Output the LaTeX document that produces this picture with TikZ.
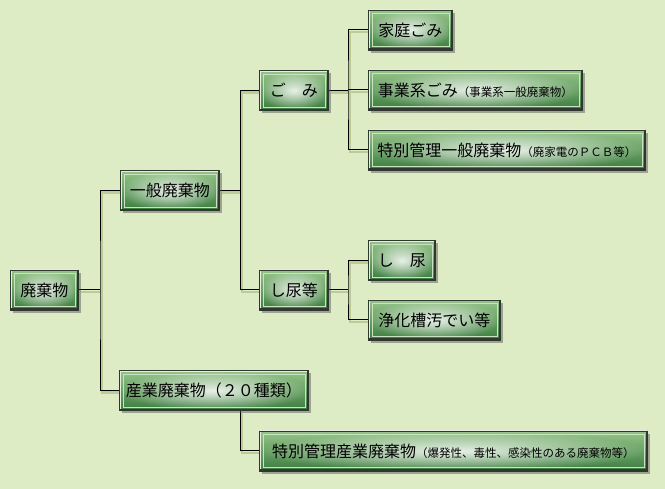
\documentclass[tikz,border=0pt]{standalone}
\usepackage{fontspec}
\setmainfont{Noto Sans CJK JP}
\usetikzlibrary{positioning,calc,shadows,fadings,backgrounds}
\definecolor{bgreen}{RGB}{222,236,197}
\definecolor{boxtop}{RGB}{150,196,138}
\definecolor{boxbottom}{RGB}{58,124,62}
\definecolor{edgelight}{RGB}{232,236,226}
\definecolor{edgedark}{RGB}{48,54,48}
\definecolor{innerline}{RGB}{200,228,190}
\definecolor{lineshadow}{RGB}{188,204,152}

\tikzfading[name=glowfade,inner color=transparent!0,outer color=transparent!100]
\newcommand{\subnote}[1]{{\fontsize{11.5}{13}\selectfont #1}}

\tikzset{
  wbox/.style={draw=edgedark,line width=0.6pt,top color=boxtop,bottom color=boxbottom,
    minimum height=40pt,inner sep=0pt,anchor=west,font=\fontsize{16}{18}\selectfont,
    drop shadow={shadow xshift=3pt,shadow yshift=-3pt,opacity=0.45,fill=black!70},
    path picture={
      \fill[white,opacity=0.85,path fading=glowfade]
        ([shift={(4pt,3pt)}]path picture bounding box.south west) rectangle
        ([shift={(-4pt,-3pt)}]path picture bounding box.north east);
      \draw[edgelight,line width=3pt] (path picture bounding box.south west)
        -- (path picture bounding box.north west) -- (path picture bounding box.north east);
      \draw[edgedark,line width=3pt] (path picture bounding box.south west)
        -- (path picture bounding box.south east) -- (path picture bounding box.north east);
      \draw[innerline,line width=0.6pt]
        ([shift={(3.5pt,3.5pt)}]path picture bounding box.south west) rectangle
        ([shift={(-3.5pt,-3.5pt)}]path picture bounding box.north east);
    }},
  tline/.style={line width=1pt,
    preaction={draw=lineshadow,line width=2.5pt,transform canvas={shift={(2pt,-2pt)}}}}
}

\begin{document}
\begin{tikzpicture}[x=1pt,y=-1pt]
\useasboundingbox (0,0) rectangle (665,489);
% boxes
\node[wbox,minimum width=68pt] (haiki) at (10,290) {廃棄物};
\node[wbox,minimum width=99pt] (ippan) at (120,190.5) {一般廃棄物};
\node[wbox,minimum width=69pt] (gomi) at (259,90.5) {ご　み};
\node[wbox,minimum width=84pt] (katei) at (368,30) {家庭ごみ};
\node[wbox,minimum width=214pt] (jigyo) at (368,90) {事業系ごみ\subnote{（事業系一般廃棄物）}};
\node[wbox,minimum width=277pt] (tokkan1) at (368,150) {特別管理一般廃棄物\subnote{（廃家電のＰＣＢ等）}};
\node[wbox,minimum width=69pt] (shinyo) at (259,290) {し尿等};
\node[wbox,minimum width=67pt] (shi) at (368,260.5) {し　尿};
\node[wbox,minimum width=132pt] (jouka) at (368,320) {浄化槽汚でい等};
\node[wbox,minimum width=189pt] (sangyo) at (119,390.5) {産業廃棄物（２０種類）};
\node[wbox,minimum width=388pt] (tokkan2) at (259,451) {特別管理産業廃棄物\subnote{（爆発性、毒性、感染性のある廃棄物等）}};
% branch points
\coordinate (j1) at (100,290);
\coordinate (j2) at (240,290);
\coordinate (j3) at (348,90.5);
\coordinate (j4) at (348,290);
\begin{scope}[on background layer]
\fill[bgreen] (0,0) rectangle (665,489);
\draw[tline] (haiki) -- (j1);
\draw[tline] (ippan.west) -| (j1) |- (sangyo.west);
\draw[tline] (ippan.east) -- (ippan.east -| j2);
\draw[tline] (gomi.west) -| (j2) |- (shinyo.west);
\draw[tline] (gomi) -- (j3);
\draw[tline] (katei.west) -| (j3) |- (tokkan1.west);
\draw[tline] (jigyo.west) -- (jigyo.west -| j3);
\draw[tline] (shinyo) -- (j4);
\draw[tline] (shi.west) -| (j4) |- (jouka.west);
\draw[tline] (j2 |- sangyo.south) |- (tokkan2.west);
\end{scope}
\end{tikzpicture}
\end{document}
